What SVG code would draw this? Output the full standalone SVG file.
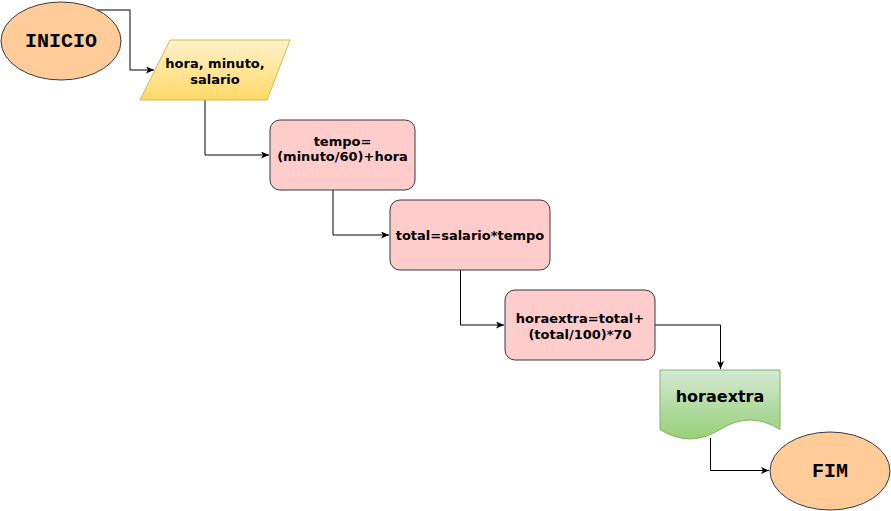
<svg xmlns="http://www.w3.org/2000/svg" width="891" height="511" viewBox="0 0 891 511">
<style>
.term{fill:#ffcc99;stroke:#36393d;stroke-width:1}
.proc{fill:#ffcccc;stroke:#36393d;stroke-width:1}
.mono{font-family:"Liberation Mono","Courier New",monospace;font-weight:bold;font-size:20px;fill:#000;text-anchor:middle}
.lbl{font-family:"DejaVu Sans",Verdana,sans-serif;font-weight:bold;font-size:13px;fill:#000;text-anchor:middle}
.edge{fill:none;stroke:#000;stroke-width:1}
</style>
<defs>
<linearGradient id="gY" x1="0" y1="0" x2="0" y2="1"><stop offset="0" stop-color="#fff2cc"/><stop offset="1" stop-color="#ffd966"/></linearGradient>
<linearGradient id="gG" x1="0" y1="0" x2="0" y2="1"><stop offset="0" stop-color="#d5e8d4"/><stop offset="1" stop-color="#97d077"/></linearGradient>
<marker id="arr" markerUnits="userSpaceOnUse" markerWidth="10" markerHeight="8" refX="8" refY="3.5" orient="auto">
<path d="M0,0 L8,3.5 L0,7 L2,3.5 Z" fill="#000"/>
</marker>
</defs>
<rect width="891" height="511" fill="#fff"/>
<g id="connectors">
<path class="edge" d="M97,10 H130 V70 H154" marker-end="url(#arr)"/>
<path class="edge" d="M205,100 V155 H269" marker-end="url(#arr)"/>
<path class="edge" d="M333,190 V235 H389" marker-end="url(#arr)"/>
<path class="edge" d="M460.5,270 V325 H504" marker-end="url(#arr)"/>
<path class="edge" d="M655,325 H720.5 V369" marker-end="url(#arr)"/>
<path class="edge" d="M710.5,438 V470.5 H769" marker-end="url(#arr)"/>
</g>
<g id="inicio">
<ellipse class="term" cx="61" cy="41" rx="60" ry="39"/>
<text class="mono" x="61" y="47">INICIO</text>
</g>
<g id="entrada">
<polygon points="170,40 290,40 267,100 140,100" fill="url(#gY)" stroke="#d6b656"/>
<text class="lbl" x="215" y="68">hora, minuto,</text>
<text class="lbl" x="215" y="84">salario</text>
</g>
<g id="tempo">
<rect class="proc" x="270" y="120" width="145" height="70" rx="10"/>
<text class="lbl" x="342.5" y="146">tempo=</text>
<text class="lbl" x="342.5" y="161">(minuto/60)+hora</text>
</g>
<g id="total">
<rect class="proc" x="390" y="200" width="160" height="70" rx="10"/>
<text class="lbl" x="470" y="240">total=salario*tempo</text>
</g>
<g id="horaextra-calc">
<rect class="proc" x="505" y="290" width="150" height="70" rx="10"/>
<text class="lbl" x="580" y="323">horaextra=total+</text>
<text class="lbl" x="580" y="339">(total/100)*70</text>
</g>
<g id="saida">
<path d="M660,370 H780 V429.5 Q750,410.6 720,429.5 Q690,448.4 660,429.5 Z" fill="url(#gG)" stroke="#82b366"/>
<text class="lbl" x="720" y="402" style="font-size:16px">horaextra</text>
</g>
<g id="fim">
<ellipse class="term" cx="830" cy="471" rx="60" ry="39"/>
<text class="mono" x="830" y="477">FIM</text>
</g>
</svg>
